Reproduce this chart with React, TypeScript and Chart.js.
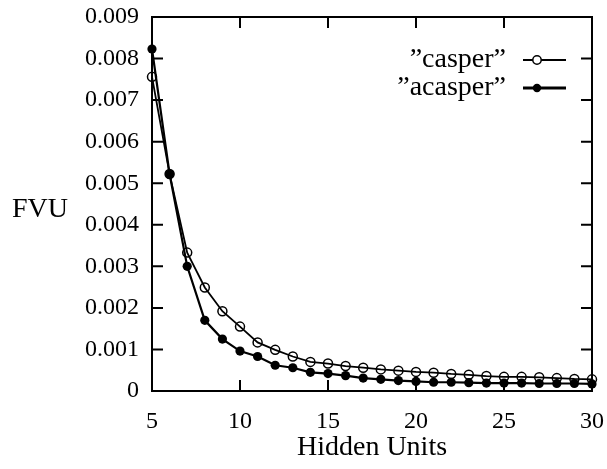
import React, { useEffect, useRef } from "react";
import { Chart, registerables } from "chart.js";

Chart.register(...registerables);

const hiddenUnits = [5, 6, 7, 8, 9, 10, 11, 12, 13, 14, 15, 16, 17, 18, 19, 20, 21, 22, 23, 24, 25, 26, 27, 28, 29, 30];
const casper = [0.00756, 0.00522, 0.00333, 0.00249, 0.00192, 0.00155, 0.00117, 0.00099, 0.00083, 0.0007, 0.00066, 0.0006, 0.00056, 0.00052, 0.00049, 0.00046, 0.00044, 0.00041, 0.00039, 0.00036, 0.00034, 0.00034, 0.00033, 0.00031, 0.00029, 0.00028];
const acasper = [0.00823, 0.00522, 0.003, 0.0017, 0.00125, 0.00096, 0.00083, 0.00062, 0.00056, 0.00045, 0.00042, 0.00037, 0.00031, 0.00028, 0.00025, 0.00023, 0.00021, 0.00021, 0.0002, 0.00019, 0.00019, 0.00019, 0.00018, 0.00018, 0.00018, 0.00017];
const seriesLabels = ["\u201dcasper\u201d", "\u201dacasper\u201d"];
const xTickLabels = ["5", "10", "15", "20", "25", "30"];
const yTickLabels = ["0", "0.001", "0.002", "0.003", "0.004", "0.005", "0.006", "0.007", "0.008", "0.009"];
const xTitle = "Hidden Units";
const yTitle = "FVU";
const xMin = 5, xMax = 30, xStep = 5;
const yMin = 0, yMax = 0.009, yStep = 0.001;

const FONT = "'Liberation Serif', 'Times New Roman', serif";

const framePlugin = {
  id: "gnuFrame",
  beforeDatasetsDraw(chart: any) {
    const { ctx, chartArea: a, scales } = chart;
    ctx.save();
    ctx.strokeStyle = "#000";
    ctx.lineWidth = 2;
    ctx.strokeRect(a.left, a.top, a.right - a.left, a.bottom - a.top);
    const tl = 11;
    ctx.beginPath();
    xTickLabels.forEach((_, i) => {
      const x = scales.x.getPixelForValue(xMin + i * xStep);
      ctx.moveTo(x, a.bottom); ctx.lineTo(x, a.bottom - tl);
      ctx.moveTo(x, a.top); ctx.lineTo(x, a.top + tl);
    });
    yTickLabels.forEach((_, i) => {
      const y = scales.y.getPixelForValue(yMin + i * yStep);
      ctx.moveTo(a.left, y); ctx.lineTo(a.left + tl, y);
      ctx.moveTo(a.right, y); ctx.lineTo(a.right - tl, y);
    });
    ctx.stroke();
    ctx.restore();
  },
  afterDraw(chart: any) {
    const { ctx, chartArea: a, scales } = chart;
    ctx.save();
    ctx.fillStyle = "#000";
    ctx.font = `24px ${FONT}`;
    ctx.textBaseline = "middle";
    ctx.textAlign = "right";
    yTickLabels.forEach((t, i) => {
      ctx.fillText(t, a.left - 13, scales.y.getPixelForValue(yMin + i * yStep));
    });
    ctx.textAlign = "center";
    xTickLabels.forEach((t, i) => {
      ctx.fillText(t, scales.x.getPixelForValue(xMin + i * xStep), a.bottom + 31);
    });
    ctx.font = `28px ${FONT}`;
    ctx.fillText(xTitle, (a.left + a.right) / 2, 448);
    ctx.fillText(yTitle, 40, 210);
    const rows = [60, 88];
    chart.data.datasets.forEach((ds: any, i: number) => {
      const y = rows[i];
      ctx.font = `28px ${FONT}`;
      ctx.textAlign = "right";
      ctx.textBaseline = "middle";
      ctx.fillStyle = "#000";
      ctx.fillText(ds.label, 506, y);
      ctx.strokeStyle = "#000";
      ctx.lineWidth = i === 0 ? 2 : 3;
      ctx.beginPath();
      ctx.moveTo(523, y);
      ctx.lineTo(566, y);
      ctx.stroke();
      ctx.beginPath();
      ctx.arc(537, y, 4.2, 0, Math.PI * 2);
      if (i === 0) {
        ctx.fillStyle = "#fff";
        ctx.fill();
        ctx.lineWidth = 1.5;
        ctx.stroke();
      } else {
        ctx.fillStyle = "#000";
        ctx.fill();
      }
    });
    ctx.restore();
  },
};

export default function App() {
  const ref = useRef<HTMLCanvasElement | null>(null);
  useEffect(() => {
    if (!ref.current) return;
    const chart = new Chart(ref.current, {
      type: "line",
      data: {
        datasets: [
          {
            label: seriesLabels[0],
            data: hiddenUnits.map((x, i) => ({ x, y: casper[i] })),
            borderColor: "#000",
            borderWidth: 1.8,
            pointRadius: 4.5,
            pointBorderWidth: 1.5,
            pointBorderColor: "#000",
            pointBackgroundColor: "rgba(0,0,0,0)",
            tension: 0,
            clip: false as any,
          },
          {
            label: seriesLabels[1],
            data: hiddenUnits.map((x, i) => ({ x, y: acasper[i] })),
            borderColor: "#000",
            borderWidth: 2.2,
            pointRadius: 4.6,
            pointBorderWidth: 0,
            pointBackgroundColor: "#000",
            tension: 0,
            clip: false as any,
          },
        ],
      },
      options: {
        animation: false,
        responsive: true,
        maintainAspectRatio: false,
        layout: { padding: { top: 17, right: 15, left: 0, bottom: 0 } },
        plugins: { legend: { display: false }, tooltip: { enabled: false } },
        scales: {
          x: {
            type: "linear",
            min: xMin,
            max: xMax,
            grid: { display: false, drawTicks: false },
            border: { display: false },
            ticks: { display: false, stepSize: xStep },
            afterFit: (s: any) => { s.height = 78; },
          },
          y: {
            type: "linear",
            min: yMin,
            max: yMax,
            grid: { display: false, drawTicks: false },
            border: { display: false },
            ticks: { display: false, stepSize: yStep },
            afterFit: (s: any) => { s.width = 152; },
          },
        },
      },
      plugins: [framePlugin],
    });
    return () => chart.destroy();
  }, []);
  return (
    <div style={{ position: "fixed", left: 0, top: 0, width: 607, height: 469, background: "#fff" }}>
      <canvas ref={ref} />
    </div>
  );
}
